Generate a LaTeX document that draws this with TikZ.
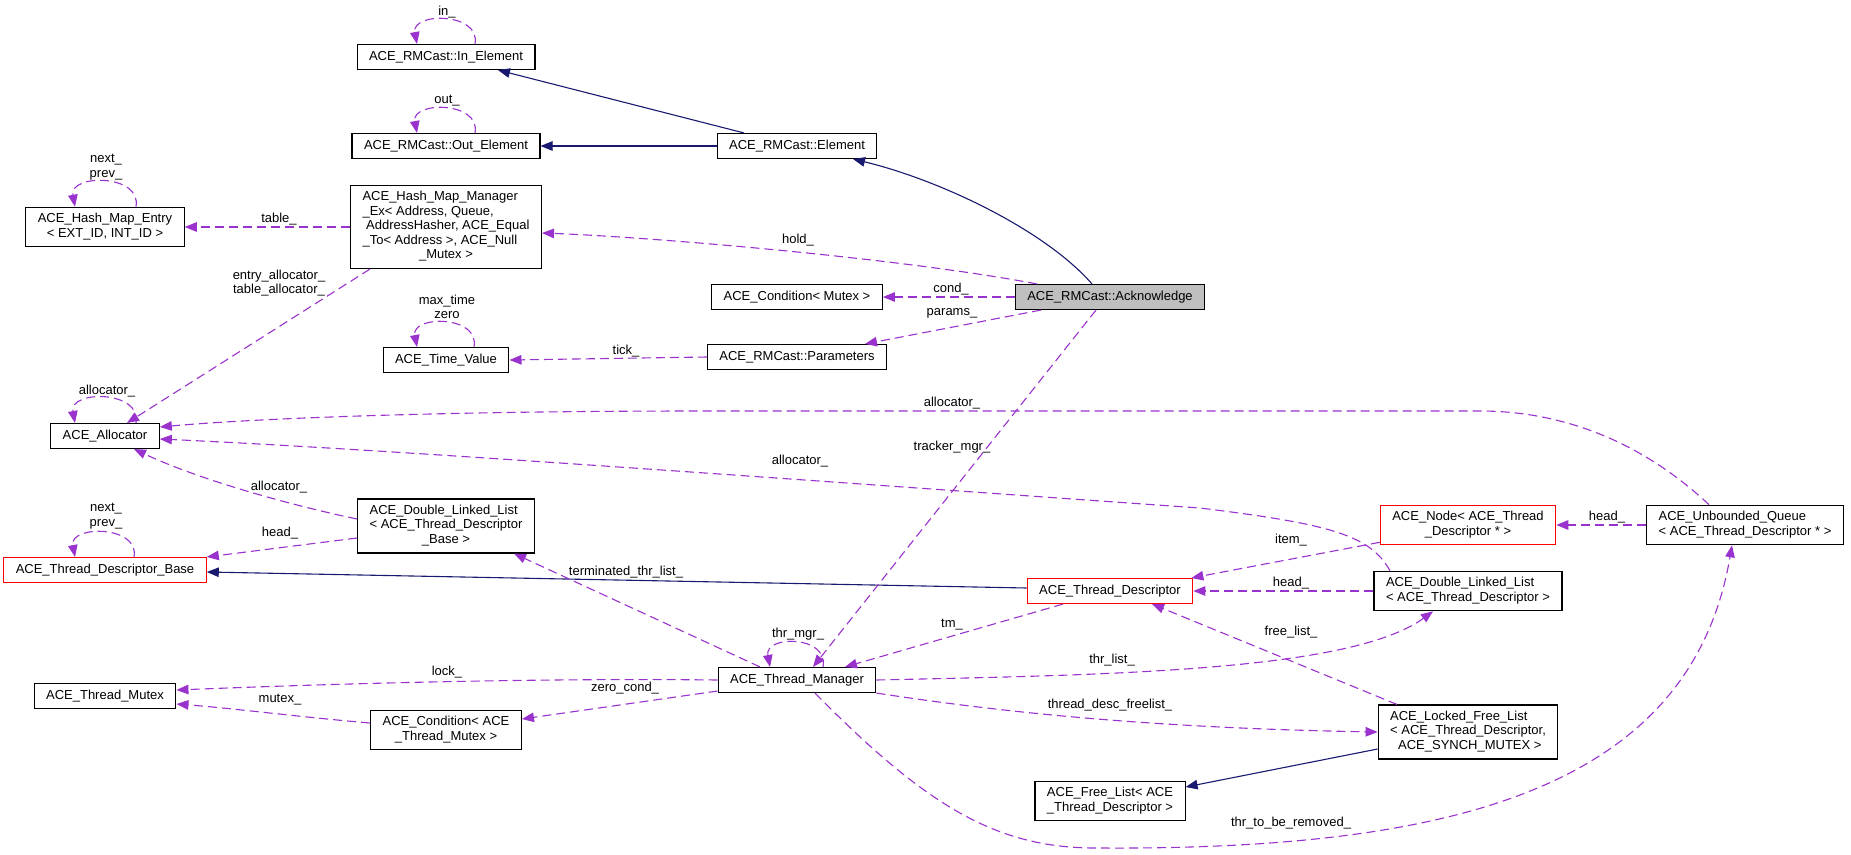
\documentclass[tikz,border=0pt]{standalone}
\usepackage{fontspec}
\setmainfont{Liberation Sans}
\usepackage{xcolor}
\usetikzlibrary{arrows.meta}
\definecolor{edgeblue}{HTML}{191970}
\definecolor{edgepurple}{HTML}{9A32CD}
\definecolor{curgrey}{HTML}{BFBFBF}
\newcommand{\lblfont}{\fontsize{13}{14.5}\selectfont}
\newcommand{\boxtext}[2]{\begin{tabular}{@{}l@{}}#1\\\multicolumn{1}{@{}c@{}}{#2}\end{tabular}}
\tikzset{
  classbox/.style={draw=black,line width=1.1pt,fill=white,font=\lblfont,inner xsep=12pt,inner ysep=5.25pt,minimum height=25pt},
  redbox/.style={classbox,draw=red},
  curbox/.style={classbox,fill=curgrey},
  inherit/.style={edgeblue,line width=1.1pt,-{Triangle[length=12pt,width=9.5pt]}},
  member/.style={edgepurple,line width=1.1pt,dash pattern=on 9pt off 5pt,-{Triangle[length=12pt,width=9.5pt]}},
  elabel/.style={font=\lblfont,inner sep=0pt,align=center}
}

\begin{document}
\begin{tikzpicture}[x=1pt,y=-1pt]
\path[use as bounding box,fill=white] (0,0) rectangle (1851,854);

\node[classbox] (inel) at (446,57) {ACE\_RMCast::In\_Element};
\node[classbox] (outel) at (446,146) {ACE\_RMCast::Out\_Element};
\node[classbox] (elem) at (797,146) {ACE\_RMCast::Element};
\node[classbox] (hme) at (105,227) {\boxtext{ACE\_Hash\_Map\_Entry}{< EXT\_ID, INT\_ID >}};
\node[classbox] (hmm) at (446,227) {\boxtext{ACE\_Hash\_Map\_Manager\\\_Ex< Address, Queue,\\\ AddressHasher, ACE\_Equal\\\_To< Address >, ACE\_Null}{\_Mutex >}};
\node[curbox] (ack) at (1110,297) {ACE\_RMCast::Acknowledge};
\node[classbox] (condm) at (797,297) {ACE\_Condition< Mutex >};
\node[classbox] (params) at (797,357) {ACE\_RMCast::Parameters};
\node[classbox] (tv) at (446,360) {ACE\_Time\_Value};
\node[classbox] (alloc) at (105,436) {ACE\_Allocator};
\node[classbox] (dlltdb) at (446,526) {\boxtext{ACE\_Double\_Linked\_List\\< ACE\_Thread\_Descriptor}{\_Base >}};
\node[redbox] (tdb) at (105,570) {ACE\_Thread\_Descriptor\_Base};
\node[classbox] (tmutex) at (105,696) {ACE\_Thread\_Mutex};
\node[classbox] (condtm) at (446,730) {\boxtext{ACE\_Condition< ACE}{\_Thread\_Mutex >}};
\node[classbox] (tm) at (797,680) {ACE\_Thread\_Manager};
\node[redbox] (td) at (1110,591) {ACE\_Thread\_Descriptor};
\node[classbox] (fl) at (1110,801) {\boxtext{ACE\_Free\_List< ACE}{\_Thread\_Descriptor >}};
\node[redbox] (tdnode) at (1468,525) {\boxtext{ACE\_Node< ACE\_Thread}{\_Descriptor * >}};
\node[classbox] (uq) at (1745,525) {\boxtext{ACE\_Unbounded\_Queue}{< ACE\_Thread\_Descriptor * >}};
\node[classbox] (dlltd) at (1468,591) {\boxtext{ACE\_Double\_Linked\_List}{< ACE\_Thread\_Descriptor >}};
\node[classbox] (lfl) at (1468,732) {\boxtext{ACE\_Locked\_Free\_List\\< ACE\_Thread\_Descriptor,}{\ ACE\_SYNCH\_MUTEX >}};

% inheritance
\draw[inherit] ([xshift=-53]elem.north) -- ([xshift=52]inel.south);
\draw[inherit] (elem.west) -- (outel.east);
\draw[inherit] ([xshift=-18]ack.north) .. controls (1045,230) and (940,180) .. ([xshift=56]elem.south);
\draw[inherit] ([yshift=3]td.west) -- ([yshift=-2]tdb.east);
\draw[inherit] ([yshift=-17]lfl.west) -- ([yshift=14]fl.east);

% members
\draw[member] (hmm.west) -- (hme.east);
\draw[member] ([xshift=-73]ack.north) .. controls (900,258) and (650,237) .. ([yshift=-6]hmm.east);
\draw[member] (ack.west) -- (condm.east);
\draw[member] ([xshift=-69]ack.south) -- ([xshift=68]params.north);
\draw[member] (params.west) -- (tv.east);
\draw[member] ([xshift=-76]hmm.south) -- ([xshift=22]alloc.north);
\draw[member] ([xshift=-36]uq.north) .. controls (1640,440) and (1560,411) .. (1480,411) -- (700,411) .. controls (450,411) and (260,418) .. ([yshift=9]alloc.east);
\draw[member] ([xshift=-78]dlltd.north) .. controls (1370,535) and (1330,524) .. (1200,508) .. controls (800,480) and (400,450) .. ([yshift=-3]alloc.east);
\draw[member] ([yshift=7]dlltdb.west) .. controls (290,505) and (200,480) .. ([xshift=29]alloc.south);
\draw[member] ([yshift=-12]dlltdb.west) -- (tdb.north east);
\draw[member] ([xshift=-14]ack.south) -- ([xshift=16]tm.north);
\draw[member] ([xshift=-37]tm.north) -- ([xshift=68]dlltdb.south);
\draw[member] ([xshift=-47]td.south) -- ([xshift=48]tm.north);
\draw[member] ([yshift=3]tdnode.south west) -- ([xshift=-2]td.north east);
\draw[member] (dlltd.west) -- (td.east);
\draw[member] ([xshift=-71]lfl.north) -- ([xshift=42]td.south);
\draw[member] (uq.west) -- (tdnode.east);
\draw[member] (tm.west) .. controls (550,678) and (350,683) .. ([yshift=6]tmutex.east);
\draw[member] ([yshift=-11]tm.west) -- ([yshift=11]condtm.east);
\draw[member] ([yshift=7]condtm.west) .. controls (300,717) and (230,708) .. ([yshift=-8]tmutex.east);
\draw[member] (tm.east) .. controls (1100,675) and (1350,672) .. ([xshift=-35]dlltd.south);
\draw[member] (tm.south east) .. controls (1000,712) and (1150,728) .. (lfl.west);
\draw[member] ([xshift=18]tm.south) .. controls (930,810) and (1000,849) .. (1100,848) .. controls (1450,850) and (1690,790) .. ([xshift=-13]uq.south);

% self loops
\draw[member] ([xshift=29]inel.north) .. controls +(6,-32) and +(-6,-32) .. ([xshift=-29]inel.north);
\draw[member] ([xshift=29]outel.north) .. controls +(6,-32) and +(-6,-32) .. ([xshift=-29]outel.north);
\draw[member] ([xshift=31]hme.north) .. controls +(6,-33) and +(-6,-33) .. ([xshift=-30]hme.north);
\draw[member] ([xshift=28]tv.north) .. controls +(6,-32) and +(-6,-32) .. ([xshift=-29]tv.north);
\draw[member] ([xshift=31]alloc.north) .. controls +(6,-33) and +(-6,-33) .. ([xshift=-30]alloc.north);
\draw[member] ([xshift=29]tdb.north) .. controls +(6,-32) and +(-6,-32) .. ([xshift=-30]tdb.north);
\draw[member] ([xshift=26]tm.north) .. controls +(6,-32) and +(-6,-32) .. ([xshift=-27]tm.north);

\node[elabel] (lin) at (447,12) {in\_};
\node[elabel] (lout) at (447,101) {out\_};
\node[elabel] (lhme) at (106,167) {next\_\\prev\_};
\node[elabel] (ltable) at (279,219) {table\_};
\node[elabel] (lentry) at (279,283) {entry\_allocator\_\\table\_allocator\_};
\node[elabel] (lhold) at (798,240) {hold\_};
\node[elabel] (lcond) at (951,289) {cond\_};
\node[elabel] (lparams) at (952,313) {params\_};
\node[elabel] (ltv) at (447,307) {max\_time\\zero};
\node[elabel] (ltick) at (626,351) {tick\_};
\node[elabel] (lalloc) at (107,391) {allocator\_};
\node[elabel] (luqalloc) at (952,403) {allocator\_};
\node[elabel] (ltracker) at (952,447) {tracker\_mgr\_};
\node[elabel] (ldlltdalloc) at (800,461) {allocator\_};
\node[elabel] (ldlltdballoc) at (279,487) {allocator\_};
\node[elabel] (ltdb) at (106,516) {next\_\\prev\_};
\node[elabel] (lheadtdb) at (280,533) {head\_};
\node[elabel] (litem) at (1291,540) {item\_};
\node[elabel] (lheaduq) at (1607,517) {head\_};
\node[elabel] (lheadtd) at (1291,583) {head\_};
\node[elabel] (lterm) at (626,572) {terminated\_thr\_list\_};
\node[elabel] (ltm) at (952,625) {tm\_};
\node[elabel] (lfree) at (1291,632) {free\_list\_};
\node[elabel] (lthrmgr) at (798,634) {thr\_mgr\_};
\node[elabel] (lthrlist) at (1112,660) {thr\_list\_};
\node[elabel] (llock) at (447,672) {lock\_};
\node[elabel] (lzero) at (625,688) {zero\_cond\_};
\node[elabel] (lmutex) at (280,700) {mutex\_};
\node[elabel] (lfreelist) at (1110,705) {thread\_desc\_freelist\_};
\node[elabel] (lremoved) at (1291,823) {thr\_to\_be\_removed\_};

\end{tikzpicture}
\end{document}
